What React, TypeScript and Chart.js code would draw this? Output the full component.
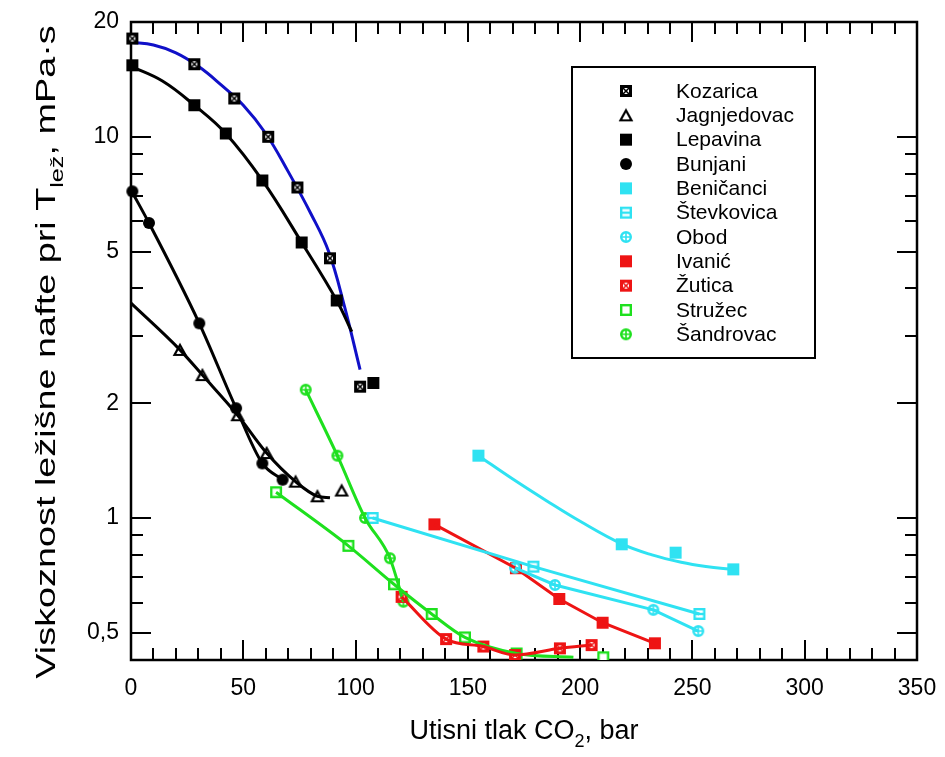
import React, { useEffect, useRef } from "react";
import { Chart, registerables } from "chart.js";
Chart.register(...registerables);

// ---------- data ----------
const seriesNames = ["Kozarica", "Jagnjedovac", "Lepavina", "Bunjani", "Beničanci", "Števkovica", "Obod", "Ivanić", "Žutica", "Stružec", "Šandrovac"];

const kozaricaX = [0.6, 28.2, 46.0, 61.1, 74.1, 88.6, 102.0];
const kozaricaY = [18.1, 15.5, 12.6, 10.0, 7.36, 4.8, 2.21];
const kozaricaFitX = [0, 10, 20, 30, 40, 50, 60, 70, 80, 88, 95, 102];
const kozaricaFitY = [17.7, 17.4, 16.6, 15.3, 13.7, 12.1, 10.2, 8.1, 6.3, 5.0, 3.6, 2.45];

const jagnjedovacX = [21.8, 31.8, 47.5, 60.4, 73.3, 83.0, 93.8];
const jagnjedovacY = [2.76, 2.37, 1.86, 1.48, 1.245, 1.14, 1.18];
const jagnjedovacLineX = [0, 21.8, 31.8, 47.5, 60.4, 73.3, 83.0, 88.6];
const jagnjedovacLineY = [3.66, 2.76, 2.37, 1.86, 1.48, 1.245, 1.14, 1.13];

const lepavinaX = [0.6, 28.2, 42.2, 58.5, 76.0, 91.6, 107.9];
const lepavinaY = [15.4, 12.1, 10.2, 7.68, 5.28, 3.72, 2.26];
const lepavinaLineX = [0, 14, 28.2, 42.2, 58.5, 76.0, 91.6, 98.3];
const lepavinaLineY = [15.3, 14.0, 12.1, 10.2, 7.68, 5.28, 3.72, 3.08];

const bunjaniX = [0.6, 8.0, 30.4, 46.8, 58.5, 67.5];
const bunjaniY = [7.19, 5.94, 3.24, 1.94, 1.39, 1.26];
const bunjaniLineX = [0, 8.0, 30.4, 46.8, 58.5, 67.5];
const bunjaniLineY = [7.25, 5.94, 3.24, 1.94, 1.39, 1.26];

const benicanciX = [154.7, 218.5, 242.5, 268.2];
const benicanciY = [1.457, 0.853, 0.811, 0.733];
const benicanciLineX = [154.7, 170, 185, 200, 218.5, 232, 245, 256, 268.2];
const benicanciLineY = [1.457, 1.265, 1.11, 0.98, 0.855, 0.8, 0.765, 0.746, 0.733];

const stevkovicaX = [107.6, 179.2, 253.1];
const stevkovicaY = [1.0, 0.745, 0.56];

const obodX = [171.0, 188.8, 232.6, 252.6];
const obodY = [0.74, 0.667, 0.574, 0.505];

const ivanicX = [135.1, 171.4, 190.7, 210.0, 233.3];
const ivanicY = [0.962, 0.738, 0.613, 0.531, 0.469];

const zuticaX = [120.5, 140.3, 156.9, 171.0, 191.0, 205.1];
const zuticaY = [0.621, 0.481, 0.46, 0.437, 0.455, 0.464];

const struzecX = [64.6, 96.8, 117.1, 133.9, 148.7, 171.7, 210.3];
const struzecY = [1.168, 0.845, 0.67, 0.56, 0.486, 0.441, 0.431];
const struzecLineX = [64.6, 96.8, 117.1, 133.9, 148.7, 171.7, 197];
const struzecLineY = [1.168, 0.845, 0.67, 0.56, 0.486, 0.441, 0.431];

const sandrovacX = [77.8, 91.9, 104.2, 115.3, 121.3];
const sandrovacY = [2.17, 1.457, 1.0, 0.784, 0.603];

const xTickValues = [0, 50, 100, 150, 200, 250, 300, 350];
const xTickLabels = ["0", "50", "100", "150", "200", "250", "300", "350"];
const yTickValues = [0.5, 1, 2, 5, 10, 20];
const yTickLabels = ["0,5", "1", "2", "5", "10", "20"];
const yMinorTicks = [0.6, 0.7, 0.8, 0.9, 3, 4, 6, 7, 8, 9];

// ---------- styles ----------
const BLACK = "#000000";
const BLUE = "#1010c8";
const CYAN = "#2fe2f2";
const RED = "#ee1414";
const GREEN = "#1ee01e";
const FONT = "'Liberation Sans', Arial, sans-serif";

const pts = (xs: number[], ys: number[]) => xs.map((x, i) => ({ x, y: ys[i] }));

function makeMarker(kind: string, color: string, size = 12): HTMLCanvasElement {
  const pad = 3;
  const d = size + pad * 2;
  const c = document.createElement("canvas");
  c.width = d;
  c.height = d;
  const g = c.getContext("2d")!;
  const m = d / 2;
  const h = size / 2;
  g.strokeStyle = color;
  g.fillStyle = color;
  if (kind === "square") {
    g.fillRect(m - h, m - h, size, size);
  } else if (kind === "circle") {
    g.beginPath();
    g.arc(m, m, h, 0, Math.PI * 2);
    g.fill();
  } else if (kind === "boxX") {
    const lw = 3;
    g.fillStyle = "#fff";
    g.fillRect(m - h, m - h, size, size);
    g.lineWidth = lw;
    g.strokeRect(m - h + lw / 2, m - h + lw / 2, size - lw, size - lw);
    const k = h - lw;
    g.lineWidth = 1.6;
    g.beginPath();
    g.moveTo(m - k, m - k);
    g.lineTo(m + k, m + k);
    g.moveTo(m + k, m - k);
    g.lineTo(m - k, m + k);
    g.stroke();
  } else if (kind === "boxH") {
    const lw = 2.4;
    g.fillStyle = "#fff";
    g.fillRect(m - h, m - h, size, size);
    g.lineWidth = lw;
    g.strokeRect(m - h + lw / 2, m - h + lw / 2, size - lw, size - lw);
    g.beginPath();
    g.moveTo(m - h, m);
    g.lineTo(m + h, m);
    g.stroke();
  } else if (kind === "boxOpen") {
    const lw = 2.4;
    g.fillStyle = "#fff";
    g.fillRect(m - h, m - h, size, size);
    g.lineWidth = lw;
    g.strokeRect(m - h + lw / 2, m - h + lw / 2, size - lw, size - lw);
  } else if (kind === "triangle") {
    const lw = 2.2;
    g.lineWidth = lw;
    g.lineJoin = "miter";
    g.fillStyle = "#fff";
    g.beginPath();
    g.moveTo(m, m - h + 1);
    g.lineTo(m + h - 0.5, m + h - 1);
    g.lineTo(m - h + 0.5, m + h - 1);
    g.closePath();
    g.fill();
    g.stroke();
  } else if (kind === "circlePlus") {
    const lw = 2.4;
    g.fillStyle = "#fff";
    g.beginPath();
    g.arc(m, m, h - lw / 2, 0, Math.PI * 2);
    g.fill();
    g.lineWidth = lw;
    g.stroke();
    g.lineWidth = 1.6;
    g.beginPath();
    g.moveTo(m - h + 1, m);
    g.lineTo(m + h - 1, m);
    g.moveTo(m, m - h + 1);
    g.lineTo(m, m + h - 1);
    g.stroke();
  }
  return c;
}

const markerKinds = ["boxX", "triangle", "square", "circle", "square", "boxH", "circlePlus", "square", "boxX", "boxOpen", "circlePlus"];
const markerColors = [BLACK, BLACK, BLACK, BLACK, CYAN, CYAN, CYAN, RED, RED, GREEN, GREEN];

export default function App() {
  const ref = useRef<HTMLCanvasElement | null>(null);

  useEffect(() => {
    const canvas = ref.current;
    if (!canvas) return;
    const markers = markerKinds.map((k, i) => makeMarker(k, markerColors[i], 12));
    const legendMarkers = markerKinds.map((k, i) => makeMarker(k, markerColors[i], 12));

    const clip = { left: 8, top: 8, right: 8, bottom: 0 };
    const lineDs = (data: { x: number; y: number }[], color: string, tension = 0.35, mode = "monotone") => ({
      data,
      showLine: true,
      borderColor: color,
      borderWidth: 3,
      pointRadius: 0,
      pointHoverRadius: 0,
      tension,
      cubicInterpolationMode: tension > 0 ? mode : "default",
      clip,
      label: "",
    });
    const markDs = (data: { x: number; y: number }[], idx: number) => ({
      data,
      showLine: false,
      pointStyle: markers[idx],
      pointRadius: 6,
      borderColor: markerColors[idx],
      backgroundColor: markerColors[idx],
      clip,
      label: seriesNames[idx],
    });

    const datasets: any[] = [
      lineDs(pts(jagnjedovacLineX, jagnjedovacLineY), BLACK),
      lineDs(pts(lepavinaLineX, lepavinaLineY), BLACK, 0.4, "default"),
      lineDs(pts(bunjaniLineX, bunjaniLineY), BLACK, 0.2),
      lineDs(pts(benicanciLineX, benicanciLineY), CYAN, 0.4, "default"),
      lineDs(pts(stevkovicaX, stevkovicaY), CYAN, 0),
      lineDs(pts(obodX, obodY), CYAN, 0),
      lineDs(pts(ivanicX, ivanicY), RED, 0),
      lineDs(pts(zuticaX, zuticaY), RED, 0.3),
      lineDs(pts(struzecLineX, struzecLineY), GREEN, 0.2),
      lineDs(pts(sandrovacX, sandrovacY), GREEN, 0.2),
      markDs(pts(kozaricaX, kozaricaY), 0),
      markDs(pts(jagnjedovacX, jagnjedovacY), 1),
      markDs(pts(lepavinaX, lepavinaY), 2),
      markDs(pts(bunjaniX, bunjaniY), 3),
      markDs(pts(benicanciX, benicanciY), 4),
      markDs(pts(stevkovicaX, stevkovicaY), 5),
      markDs(pts(obodX, obodY), 6),
      markDs(pts(ivanicX, ivanicY), 7),
      markDs(pts(zuticaX, zuticaY), 8),
      markDs(pts(struzecX, struzecY), 9),
      markDs(pts(sandrovacX, sandrovacY), 10),
      lineDs(pts(kozaricaFitX, kozaricaFitY), BLUE, 0.4, "default"),
    ];

    const framePlugin = {
      id: "frameTicks",
      beforeDatasetsDraw(chart: any) {
        const { ctx, chartArea: a, scales } = chart;
        const xs = scales.x;
        const ys = scales.y;
        ctx.save();
        ctx.strokeStyle = "#000";
        ctx.lineWidth = 2;
        ctx.lineCap = "butt";
        ctx.beginPath();
        for (let v = 0; v <= 350; v += 10) {
          const px = Math.round(xs.getPixelForValue(v));
          const len = v % 50 === 0 ? 20 : 12;
          ctx.moveTo(px, a.bottom);
          ctx.lineTo(px, a.bottom - len);
          ctx.moveTo(px, a.top);
          ctx.lineTo(px, a.top + len);
        }
        const yt = (v: number, len: number) => {
          const py = Math.round(ys.getPixelForValue(v));
          ctx.moveTo(a.left, py);
          ctx.lineTo(a.left + len, py);
          ctx.moveTo(a.right, py);
          ctx.lineTo(a.right - len, py);
        };
        yTickValues.forEach((v) => yt(v, 20));
        yMinorTicks.forEach((v) => yt(v, 12));
        ctx.stroke();
        ctx.lineWidth = 2.5;
        ctx.strokeRect(a.left, a.top, a.right - a.left, a.bottom - a.top);

        ctx.fillStyle = "#000";
        ctx.font = `23px ${FONT}`;
        ctx.textAlign = "center";
        ctx.textBaseline = "middle";
        xTickValues.forEach((v, i) => {
          ctx.fillText(xTickLabels[i], xs.getPixelForValue(v), a.bottom + 29);
        });
        ctx.textAlign = "right";
        yTickValues.forEach((v, i) => {
          ctx.fillText(yTickLabels[i], a.left - 12, ys.getPixelForValue(v));
        });

        const drawParts = (parts: { t: string; sub?: boolean }[], size: number) => {
          const widths = parts.map((p) => {
            ctx.font = `${p.sub ? Math.round(size * 0.68) : size}px ${FONT}`;
            return ctx.measureText(p.t).width;
          });
          const total = widths.reduce((s, w) => s + w, 0);
          let cx = -total / 2;
          ctx.textAlign = "left";
          ctx.textBaseline = "alphabetic";
          parts.forEach((p, i) => {
            ctx.font = `${p.sub ? Math.round(size * 0.68) : size}px ${FONT}`;
            ctx.fillText(p.t, cx, p.sub ? size * 0.28 : 0);
            cx += widths[i];
          });
        };
        ctx.save();
        ctx.translate((a.left + a.right) / 2, 739);
        drawParts([{ t: "Utisni tlak CO" }, { t: "2", sub: true }, { t: ", bar" }], 27);
        ctx.restore();
        ctx.save();
        ctx.translate(55, 352);
        ctx.rotate(-Math.PI / 2);
        ctx.scale(1.4, 1);
        drawParts([{ t: "Viskoznost ležišne nafte pri T" }, { t: "lež", sub: true }, { t: ", mPa·s" }], 27);
        ctx.restore();
        ctx.restore();
      },
      afterDatasetsDraw(chart: any) {
        const { ctx } = chart;
        ctx.save();
        const bx = 572, by = 67, bw = 243, bh = 291;
        ctx.fillStyle = "#fff";
        ctx.fillRect(bx, by, bw, bh);
        ctx.strokeStyle = "#000";
        ctx.lineWidth = 2;
        ctx.strokeRect(bx, by, bw, bh);
        ctx.font = `21px ${FONT}`;
        ctx.fillStyle = "#000";
        ctx.textAlign = "left";
        ctx.textBaseline = "middle";
        seriesNames.forEach((name, i) => {
          const ry = 91 + i * 24.33;
          const mk = legendMarkers[i];
          ctx.drawImage(mk, 626 - mk.width / 2, ry - mk.height / 2);
          ctx.fillText(name, 676, ry + 1);
        });
        ctx.restore();
      },
    };

    const chart = new Chart(canvas, {
      type: "scatter",
      data: { datasets },
      options: {
        animation: false,
        responsive: false,
        devicePixelRatio: 1,
        layout: { padding: { left: 131, top: 22, right: 28, bottom: 97 } },
        plugins: { legend: { display: false }, tooltip: { enabled: false } },
        events: [],
        scales: {
          x: { type: "linear", min: 0, max: 350, bounds: "data", display: false },
          y: { type: "logarithmic", min: 0.424, max: 20, bounds: "data", display: false },
        },
      } as any,
      plugins: [framePlugin],
    });
    return () => chart.destroy();
  }, []);

  return (
    <div style={{ position: "fixed", left: 0, top: 0, width: 945, height: 757, background: "#fff" }}>
      <canvas ref={ref} width={945} height={757} style={{ display: "block" }} />
    </div>
  );
}
